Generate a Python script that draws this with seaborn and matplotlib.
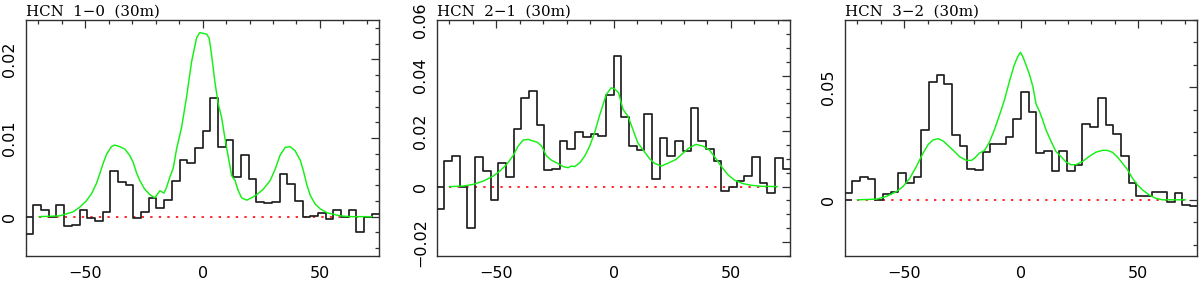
import numpy as np
import matplotlib
matplotlib.use("Agg")
import matplotlib.pyplot as plt
import seaborn as sns
from matplotlib.ticker import MultipleLocator, FuncFormatter

# ---------------- data ----------------
channel_width = 3.28  # km/s
velocity = np.arange(-23, 23) * channel_width + channel_width / 2  # channel centres

titles = ["HCN  1\u22120  (30m)", "HCN  2\u22121  (30m)", "HCN  3\u22122  (30m)"]

hcn10_obs = [-0.0022, 0.0015, 0.0008, 0.0, 0.0015, -0.0012, -0.0010, 0.0008, -0.0002, -0.0005,
             0.0006, 0.0058, 0.0044, 0.0040, -0.0002, 0.0006, 0.0024, 0.0011, 0.0021, 0.0045,
             0.0072, 0.0068, 0.0087,
             0.0109, 0.0151, 0.0089, 0.0097, 0.0051, 0.0078, 0.0048, 0.0019, 0.0017, 0.0019,
             0.0054, 0.0042, 0.0020, -0.0001, 0.0001, 0.0005, -0.0003, 0.0009, 0.0, 0.0008,
             -0.0019, 0.0, 0.0004]
hcn21_obs = [-0.0079, 0.0092, 0.0110, 0.0, -0.0149, 0.0105, 0.0055, -0.0050, 0.0086, 0.0036,
             0.0208, 0.0320, 0.0344, 0.0222, 0.0060, 0.0062, 0.0165, 0.0137, 0.0196, 0.0177,
             0.0188, 0.0184, 0.0330,
             0.0472, 0.0251, 0.0146, 0.0132, 0.0260, 0.0026, 0.0175, 0.0110, 0.0163, 0.0129,
             0.0283, 0.0163, 0.0137, 0.0092, -0.0016, 0.0, 0.0020, 0.0038, 0.0108, 0.0014,
             -0.0022, 0.0103, 0.0065]
hcn32_obs = [0.0030, 0.0082, 0.0101, 0.0092, 0.0, 0.0025, 0.0034, 0.0119, 0.0074, 0.0101,
             0.0309, 0.0522, 0.0554, 0.0517, 0.0290, 0.0240, 0.0137, 0.0133, 0.0211, 0.0248,
             0.0248, 0.0280, 0.0359,
             0.0479, 0.0390, 0.0208, 0.0215, 0.0126, 0.0215, 0.0126, 0.0156, 0.0337, 0.0326,
             0.0451, 0.0331, 0.0292, 0.0196, 0.0077, 0.0015, 0.0015, 0.0034, 0.0033, -0.0010,
             0.0030, -0.0022, -0.0027]

hcn10_model_v = [-69.8, -61.0, -55.3, -52.4, -49.6, -47.4, -45.3, -43.9, -42.5, -41.0, -38.9, -37.5,
                 -35.3, -33.2, -31.1, -29.6, -28.2, -26.8, -24.7, -22.5, -20.4, -18.2, -16.5, -15.4,
                 -14.0, -12.5, -11.1, -9.0, -6.9, -4.7, -2.6, -1.2, 0.3, 1.7, 2.8, 3.8, 5.2, 6.7,
                 8.1, 9.5, 11.0, 12.4, 13.8, 15.2, 16.6, 18.8, 20.9, 23.1, 25.9, 28.8, 30.9, 33.0,
                 35.2, 37.3, 39.4, 41.6, 43.0, 44.4, 45.9, 48.0, 50.1, 53.0, 55.8, 58.7, 62.9, 72.2]
hcn10_model = [0.0, 0.0001, 0.0006, 0.0012, 0.0020, 0.0029, 0.0042, 0.0054, 0.0067, 0.0079, 0.0089,
               0.0091, 0.0089, 0.0086, 0.0078, 0.0069, 0.0056, 0.0046, 0.0035, 0.0028, 0.0024,
               0.0033, 0.0030, 0.0037, 0.0050, 0.0062, 0.0086, 0.0113, 0.0151, 0.0197, 0.0227,
               0.0234, 0.0233, 0.0232, 0.0227, 0.0206, 0.0172, 0.0143, 0.0126, 0.0100, 0.0075,
               0.0052, 0.0046, 0.0033, 0.0024, 0.0021, 0.0024, 0.0028, 0.0035, 0.0046, 0.0060,
               0.0078, 0.0088, 0.0089, 0.0084, 0.0072, 0.0058, 0.0041, 0.0027, 0.0016, 0.0010,
               0.0005, 0.0003, 0.0001, 0.0, 0.0]

hcn21_model_v = [-70.0, -64.0, -59.8, -55.5, -51.3, -48.5, -45.6, -42.8, -40.7, -38.5, -36.4, -34.3,
                 -32.6, -30.7, -28.6, -26.5, -24.4, -21.5, -19.4, -18.0, -16.6, -14.4, -12.3, -10.2,
                 -8.1, -6.0, -3.1, -1.0, 0.4, 2.1, 4.0, 6.1, 8.2, 10.3, 12.9, 15.3, 17.4, 20.3,
                 23.1, 26.6, 29.5, 32.3, 35.1, 38.0, 40.8, 43.6, 45.8, 48.6, 51.4, 55.0, 58.5,
                 62.8, 69.8]
hcn21_model = [0.0, 0.0002, 0.0008, 0.0020, 0.0038, 0.0056, 0.0080, 0.0112, 0.0146, 0.0168, 0.0170,
               0.0164, 0.0160, 0.0146, 0.0110, 0.0095, 0.0086, 0.0072, 0.0068, 0.0074, 0.0072,
               0.0086, 0.0110, 0.0146, 0.0194, 0.0256, 0.0332, 0.0356, 0.0352, 0.0338, 0.0278,
               0.0254, 0.0206, 0.0158, 0.0128, 0.0101, 0.0084, 0.0074, 0.0084, 0.0098, 0.0120,
               0.0140, 0.0152, 0.0146, 0.0132, 0.0101, 0.0074, 0.0044, 0.0024, 0.0011, 0.0005,
               0.0001, 0.0]

hcn32_model_v = [-70.1, -61.8, -57.6, -53.3, -50.5, -47.6, -44.8, -41.9, -39.8, -37.7, -35.5, -33.4,
                 -31.3, -29.1, -26.3, -23.5, -21.3, -19.9, -17.8, -15.6, -13.5, -11.4, -9.3, -7.1,
                 -5.0, -2.9, -1.4, -0.3, 0.7, 2.1, 3.5, 5.0, 6.4, 7.8, 9.2, 10.6, 12.8, 14.9, 17.0,
                 19.2, 21.3, 23.4, 26.3, 29.1, 32.0, 34.8, 36.9, 39.1, 41.2, 43.3, 45.5, 47.6,
                 49.7, 51.8, 54.7, 57.5, 60.4, 70.3]
hcn32_model = [0.0, 0.0003, 0.0015, 0.0037, 0.0059, 0.0096, 0.0148, 0.0208, 0.0245, 0.0266, 0.0272,
               0.0262, 0.0242, 0.0221, 0.0192, 0.0176, 0.0175, 0.0185, 0.0208, 0.0220, 0.0258,
               0.0312, 0.0375, 0.0445, 0.0527, 0.0601, 0.0638, 0.0656, 0.0638, 0.0600, 0.0560,
               0.0505, 0.0425, 0.0395, 0.0356, 0.0312, 0.0260, 0.0215, 0.0193, 0.0168, 0.0156,
               0.0156, 0.0171, 0.0193, 0.0212, 0.0220, 0.0220, 0.0211, 0.0190, 0.0163, 0.0134,
               0.0096, 0.0067, 0.0045, 0.0022, 0.0007, 0.0, 0.0]

observed = [hcn10_obs, hcn21_obs, hcn32_obs]
model_v = [hcn10_model_v, hcn21_model_v, hcn32_model_v]
model = [hcn10_model, hcn21_model, hcn32_model]
y_limits = [(-0.005, 0.025), (-0.025, 0.06), (-0.025, 0.08)]
y_major = [0.01, 0.02, 0.05]
y_minor = [0.002, 0.005, 0.01]

# ---------------- style ----------------
sns.set_style("white")
plt.rcParams["font.family"] = ["DejaVu Sans"]
plt.rcParams["axes.edgecolor"] = "#303030"
plt.rcParams["axes.linewidth"] = 1.0

W, H = 1200, 282
fig = plt.figure(figsize=(W / 100, H / 100), dpi=100)
lefts = [26, 437, 845]
widths = [353, 353, 352]
top_px, bottom_px = 20, 256

edges = np.append(velocity - channel_width / 2, velocity[-1] + channel_width / 2)


def tickfmt(v, pos):
    if abs(v) < 1e-12:
        return "0"
    return f"{v:g}".replace("-", "\u2212")


for i in range(3):
    ax = fig.add_axes([lefts[i] / W, (H - bottom_px) / H, widths[i] / W,
                       (bottom_px - top_px) / H])
    # zero baseline (dotted) over the model range
    ax.hlines(0, model_v[i][0], model_v[i][-1], colors="#ff2a2a",
              linestyles=(0, (1.2, 3.2)), linewidth=1.4, zorder=1)
    # observed spectrum as a step histogram (left edges + closing edge)
    step_y = np.append(observed[i], observed[i][-1])
    sns.lineplot(x=edges, y=step_y, drawstyle="steps-post", color="#202020",
                 linewidth=1.25, ax=ax, zorder=3, estimator=None, sort=False)
    # baseline segment under the first channel
    ax.hlines(0, edges[0], edges[1], colors="#202020", linewidth=1.25, zorder=3)
    # model
    sns.lineplot(x=model_v[i], y=model[i], color="#14f014", linewidth=1.05,
                 ax=ax, zorder=4, estimator=None, sort=False)

    ax.set_xlim(-75.3, 75.2)
    ax.set_ylim(*y_limits[i])
    ax.set_xlabel("")
    ax.set_ylabel("")
    ax.xaxis.set_major_locator(MultipleLocator(50))
    ax.xaxis.set_minor_locator(MultipleLocator(10))
    ax.yaxis.set_major_locator(MultipleLocator(y_major[i]))
    ax.yaxis.set_minor_locator(MultipleLocator(y_minor[i]))
    ax.xaxis.set_major_formatter(FuncFormatter(tickfmt))
    ax.yaxis.set_major_formatter(FuncFormatter(tickfmt))
    ax.tick_params(which="both", direction="in", top=True, right=True,
                   color="#303030", width=0.9, labelsize=11.5, labelcolor="black")
    ax.tick_params(which="major", length=5.5)
    ax.tick_params(which="minor", length=3.0)
    ax.tick_params(axis="x", pad=7)
    ax.tick_params(axis="y", labelrotation=90, pad=6.5)
    for lbl in ax.get_yticklabels():
        lbl.set_va("center")
    for s in ax.spines.values():
        s.set_visible(True)
        s.set_color("#303030")
    ax.annotate(titles[i], xy=(0, 1), xycoords="axes fraction", xytext=(0, 3),
                textcoords="offset points", ha="left", va="baseline",
                fontsize=10.8, family=["DejaVu Serif"], color="black")

fig.savefig("out.png", dpi=100)
